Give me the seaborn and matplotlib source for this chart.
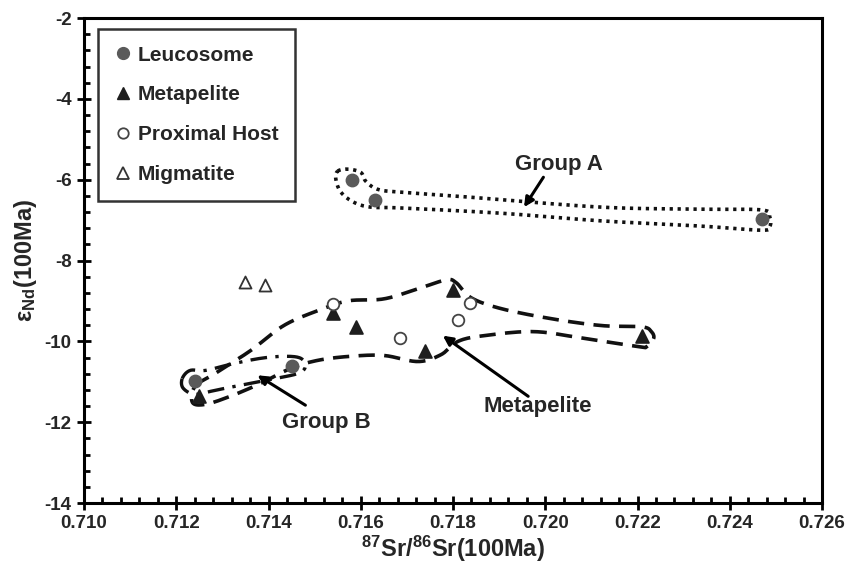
import numpy as np
import pandas as pd
import matplotlib
matplotlib.use("Agg")
import matplotlib.pyplot as plt
from matplotlib import font_manager
from matplotlib.ticker import MultipleLocator, FormatStrFormatter
from matplotlib.lines import Line2D
import seaborn as sns

# ---------------- data ----------------
leuco_x = [0.7158, 0.7163, 0.7247, 0.7124, 0.7145]
leuco_y = [-6.0, -6.5, -6.97, -10.99, -10.6]

meta_x = [0.7154, 0.7159, 0.7174, 0.7180, 0.7221, 0.7125]
meta_y = [-9.31, -9.64, -10.23, -8.72, -9.88, -11.36]

prox_x = [0.7154, 0.71685, 0.7181, 0.71837]
prox_y = [-9.07, -9.91, -9.46, -9.04]

migm_x = [0.71348, 0.71393]
migm_y = [-8.53, -8.60]

# envelope outlines (data coordinates)
groupA_x = [0.71550, 0.71572, 0.71600, 0.71611, 0.71637, 0.71687, 0.71833, 0.72122, 0.72339, 0.72470,
            0.72487, 0.72487, 0.72470, 0.72339, 0.72122, 0.71904, 0.71687, 0.71622, 0.71585, 0.71557, 0.71546]
groupA_y = [-5.79, -5.74, -5.82, -6.04, -6.24, -6.31, -6.43, -6.68, -6.73, -6.75,
            -6.93, -7.15, -7.25, -7.15, -7.02, -6.83, -6.70, -6.68, -6.56, -6.31, -5.99]

metaenv_x = [0.71241, 0.71285, 0.71361, 0.71433, 0.71507, 0.71572, 0.71650, 0.71724, 0.71785, 0.71807,
             0.71839, 0.71904, 0.72013, 0.72122, 0.72209, 0.72230, 0.72235, 0.72220, 0.72202, 0.72085,
             0.71976, 0.71867, 0.71811, 0.71774, 0.71724, 0.71650, 0.71578, 0.71507, 0.71448, 0.71383,
             0.71317, 0.71263, 0.71235]
metaenv_y = [-11.11, -10.79, -10.23, -9.61, -9.24, -9.00, -8.95, -8.70, -8.48, -8.55,
             -8.92, -9.19, -9.44, -9.61, -9.64, -9.76, -9.93, -10.13, -10.13, -9.93,
             -9.76, -9.86, -10.00, -10.33, -10.50, -10.35, -10.37, -10.47, -10.67, -11.04,
             -11.36, -11.56, -11.51]

groupB_x = [0.71213, 0.71230, 0.71263, 0.71317, 0.71383, 0.71437, 0.71470, 0.71480, 0.71465, 0.71415,
            0.71350, 0.71285, 0.71241, 0.71215]
groupB_y = [-10.92, -10.72, -10.72, -10.57, -10.42, -10.37, -10.42, -10.62, -10.79, -10.92,
            -11.06, -11.21, -11.31, -11.16]

x_ticks = [0.710, 0.712, 0.714, 0.716, 0.718, 0.720, 0.722, 0.724, 0.726]
y_ticks = [-14, -12, -10, -8, -6, -4, -2]

# ---------------- style ----------------
sns.set_theme(style="white")
names = {f.name for f in font_manager.fontManager.ttflist}
narrow = "Liberation Sans Narrow" if "Liberation Sans Narrow" in names else "Liberation Sans"
plt.rcParams["font.family"] = ["Liberation Sans", "DejaVu Sans"]
plt.rcParams["mathtext.fontset"] = "custom"
plt.rcParams["mathtext.rm"] = f"{narrow}:bold"
plt.rcParams["mathtext.default"] = "rm"

fig = plt.figure(figsize=(8.59, 5.81), dpi=100)
ax = fig.add_axes([84 / 859, 1 - 503 / 581, (822 - 84) / 859, (503 - 18) / 581])


def smooth_closed(xs, ys, n=16):
    p = np.column_stack([xs, ys])
    m = len(p)
    out = []
    for i in range(m):
        p0, p1, p2, p3 = p[(i - 1) % m], p[i], p[(i + 1) % m], p[(i + 2) % m]
        t = np.linspace(0, 1, n, endpoint=False)[:, None]
        pts = 0.5 * ((2 * p1) + (-p0 + p2) * t + (2 * p0 - 5 * p1 + 4 * p2 - p3) * t ** 2
                     + (-p0 + 3 * p1 - 3 * p2 + p3) * t ** 3)
        out.append(pts)
    out = np.vstack(out + [p[:1]])
    return out[:, 0], out[:, 1]


# envelopes
gx, gy = smooth_closed(groupA_x, groupA_y)
ax.plot(gx, gy, color="#111111", lw=2.6, linestyle=(0, (0.9, 1.3)), dash_capstyle="butt", zorder=2)
mx, my = smooth_closed(metaenv_x, metaenv_y)
ax.plot(mx, my, color="#111111", lw=2.6, linestyle=(0, (4.5, 2.6)), zorder=2)
bx, by = smooth_closed(groupB_x, groupB_y)
ax.plot(bx, by, color="#111111", lw=2.4, linestyle=(0, (5, 2.5, 1, 2.5)), zorder=2)

# points
df = pd.concat([
    pd.DataFrame({"x": leuco_x, "y": leuco_y, "g": "Leucosome"}),
    pd.DataFrame({"x": meta_x, "y": meta_y, "g": "Metapelite"}),
    pd.DataFrame({"x": prox_x, "y": prox_y, "g": "Proximal Host"}),
    pd.DataFrame({"x": migm_x, "y": migm_y, "g": "Migmatite"}),
])
styles = {
    "Leucosome": dict(marker="o", color="#5a5a5a", edgecolor="#5a5a5a", s=75),
    "Metapelite": dict(marker="^", color="#1e1e1e", edgecolor="#1e1e1e", s=85),
    "Proximal Host": dict(marker="o", color="white", edgecolor="#444444", s=70),
    "Migmatite": dict(marker="^", color="white", edgecolor="#333333", s=75),
}
for g, st in styles.items():
    sub = df[df["g"] == g]
    sns.scatterplot(data=sub, x="x", y="y", marker=st["marker"], color=st["color"],
                    edgecolor=st["edgecolor"], s=st["s"], linewidth=1.3, ax=ax, zorder=3, legend=False)

# annotations
arrow = dict(arrowstyle="-|>", color="black", lw=2.2, mutation_scale=14, shrinkA=0, shrinkB=0)
ax.annotate("", xy=(0.71954, -6.68), xytext=(0.71996, -5.94), arrowprops=arrow)
ax.text(0.72030, -5.62, "Group A", ha="center", va="center", fontsize=16, fontweight="bold")
ax.annotate("", xy=(0.71778, -9.86), xytext=(0.71963, -11.36), arrowprops=arrow)
ax.text(0.71983, -11.61, "Metapelite", ha="center", va="center", fontsize=16, fontweight="bold")
ax.annotate("", xy=(0.71376, -10.84), xytext=(0.71480, -11.58), arrowprops=arrow)
ax.text(0.71526, -12.02, "Group B", ha="center", va="center", fontsize=16, fontweight="bold")

# axes
ax.set_xlim(0.710, 0.726)
ax.set_ylim(-14, -2)
ax.set_xticks(x_ticks)
ax.set_yticks(y_ticks)
ax.xaxis.set_major_formatter(FormatStrFormatter("%.3f"))
ax.yaxis.set_major_formatter(FormatStrFormatter("%d"))
ax.xaxis.set_minor_locator(MultipleLocator(0.0004))
ax.yaxis.set_minor_locator(MultipleLocator(0.4))
ax.tick_params(which="major", direction="inout", length=10, width=2, color="black",
               labelsize=13.5, pad=4, bottom=True, left=True)
ax.tick_params(which="minor", direction="in", length=4.5, width=2, color="black", bottom=True, left=True)
for lab in ax.get_xticklabels() + ax.get_yticklabels():
    lab.set_fontfamily([narrow, "DejaVu Sans"])
    lab.set_fontweight("bold")
for sp in ax.spines.values():
    sp.set_color("black")
    sp.set_linewidth(2.2)
ax.grid(False)

ax.set_xlabel(r"$^{87}$Sr/$^{86}$Sr(100Ma)", fontsize=17, fontfamily=[narrow, "DejaVu Sans"],
              fontweight="bold", labelpad=1)
ax.set_ylabel(r"ε$_{Nd}$(100Ma)", fontsize=17, fontfamily=[narrow, "DejaVu Sans"],
              fontweight="bold", labelpad=4)

handles = [
    Line2D([], [], marker="o", ls="", color="#5a5a5a", markersize=8.5),
    Line2D([], [], marker="^", ls="", color="#1e1e1e", markersize=8.5),
    Line2D([], [], marker="o", ls="", markerfacecolor="white", markeredgecolor="#444444", markersize=7.5, mew=1.3),
    Line2D([], [], marker="^", ls="", markerfacecolor="white", markeredgecolor="#333333", markersize=8, mew=1.3),
]
leg = ax.legend(handles, ["Leucosome", "Metapelite", "Proximal Host", "Migmatite"],
                loc="upper left", bbox_to_anchor=(14 / 738, 1 - 11 / 485), borderaxespad=0,
                frameon=True, fancybox=False,
                edgecolor="black", handlelength=0.8, handletextpad=0.3, labelspacing=1.0,
                borderpad=0.8, prop=dict(size=15, weight="bold"))
leg.get_frame().set_linewidth(1.8)

fig.savefig("out.png", dpi=100)
